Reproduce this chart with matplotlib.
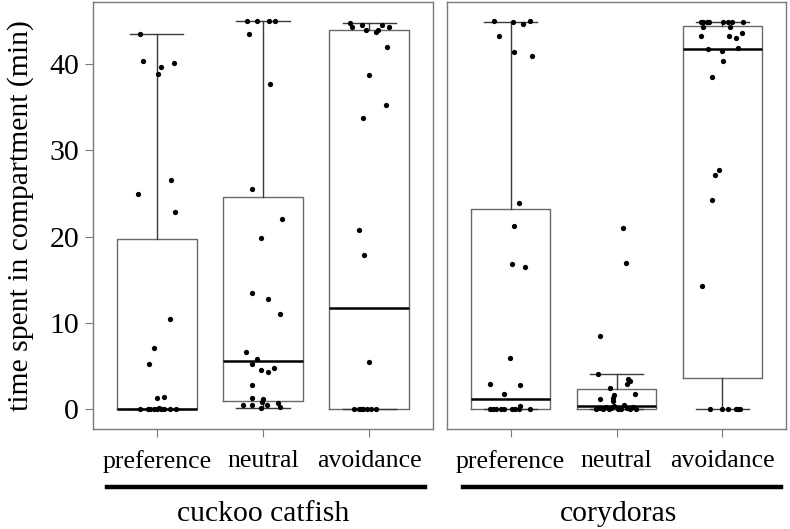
import numpy as np
import matplotlib
matplotlib.use("Agg")
import matplotlib.pyplot as plt
from matplotlib.lines import Line2D

plt.rcParams['font.family'] = ['Liberation Serif', 'DejaVu Serif']

CATEGORIES = ["preference", "neutral", "avoidance"]
GROUPS = ["cuckoo catfish", "corydoras"]

# box statistics (q1, median, q3, whisker low/high)
catfish_q1 = [0.0, 0.96, 0.0]
catfish_med = [0.08, 5.57, 11.75]
catfish_q3 = [19.75, 24.6, 43.9]
catfish_lo = [0.0, 0.2, 0.0]
catfish_hi = [43.5, 45.0, 44.8]

cory_q1 = [0.0, 0.08, 3.7]
cory_med = [1.16, 0.46, 41.8]
cory_q3 = [23.2, 2.32, 44.4]
cory_lo = [0.0, 0.0, 0.0]
cory_hi = [44.9, 4.06, 44.9]

# individual fish (minutes) and their horizontal jitter
catfish_pref = [43.5, 40.3, 39.65, 38.9, 40.1, 26.55, 25.0, 22.85, 10.5, 7.15, 5.3, 1.35, 1.47,
                0, 0, 0, 0, 0, 0.2, 0, 0, 0, 0]
catfish_pref_jit = [-0.16, -0.13, 0.04, 0.01, 0.16, 0.13, -0.18, 0.17, 0.12, -0.03, -0.07, 0.0, 0.07,
                    -0.16, -0.08, -0.06, -0.03, 0.0, 0.02, 0.04, 0.07, 0.12, 0.18]

catfish_neu = [45.0, 45.0, 45.0, 45.0, 43.5, 37.7, 25.5, 22.1, 19.9, 13.45, 12.75, 11.05, 6.6, 5.87,
               5.3, 4.6, 4.83, 4.29, 2.78, 1.31, 1.2, 0.85, 0.73, 0.54, 0.54, 0.54, 0.2, 0.31]
catfish_neu_jit = [-0.15, -0.06, 0.06, 0.11, -0.13, 0.07, -0.10, 0.18, -0.02, -0.10, 0.05, 0.16, -0.16, -0.06,
                   -0.10, -0.02, 0.10, 0.05, -0.10, -0.10, 0.0, -0.01, 0.14, -0.19, -0.10, 0.04, -0.02, 0.16]

catfish_avo = [44.8, 44.25, 44.5, 44.0, 43.75, 43.9, 44.5, 44.3, 42.0, 38.7, 35.25, 33.8, 20.8, 17.9, 5.5,
               0, 0, 0, 0, 0, 0, 0]
catfish_avo_jit = [-0.18, -0.16, -0.07, -0.03, 0.06, 0.08, 0.12, 0.19, 0.17, 0.0, 0.16, -0.06, -0.10, -0.05, 0.0,
                   -0.14, -0.10, -0.06, -0.02, 0.02, 0.06, -0.08]

cory_pref = [45.0, 44.9, 44.7, 45.0, 43.2, 41.4, 40.9, 23.9, 21.3, 16.8, 16.5, 6.0, 2.93, 2.78, 1.82, 0.46,
             0, 0, 0, 0, 0, 0, 0, 0, 0]
cory_pref_jit = [-0.16, 0.02, 0.12, 0.18, -0.11, 0.03, 0.20, 0.08, 0.03, 0.01, 0.14, -0.01, -0.19, 0.09, -0.06, 0.09,
                 -0.19, -0.17, -0.14, -0.09, -0.06, 0.01, 0.04, 0.08, 0.18]

cory_neu = [21.0, 17.0, 8.46, 4.06, 3.52, 3.25, 2.98, 2.52, 1.82, 1.62, 1.35, 1.23, 1.04,
            0.0, 0.2, 0.1, 0.3, 0.0, 0.2, 0.4, 0.1, 0.0, 0.5, 0.2, 0.0, 0.3, 0.1]
cory_neu_jit = [0.06, 0.09, -0.16, -0.17, 0.11, 0.13, 0.10, -0.06, 0.17, -0.02, -0.03, -0.16, -0.03,
                -0.19, -0.16, -0.13, -0.10, -0.07, -0.05, -0.02, 0.01, 0.04, 0.07, 0.10, 0.13, 0.16, 0.18]

cory_avo = [44.9, 44.9, 44.9, 44.9, 44.9, 44.9, 44.9, 44.9, 44.3, 44.3, 43.2, 43.2, 43.65, 43.0,
            41.8, 41.5, 41.9, 40.3, 38.5, 27.7, 27.2, 24.3, 14.3, 0, 0, 0, 0, 0, 0]
cory_avo_jit = [-0.20, -0.18, -0.15, -0.13, 0.01, 0.05, 0.09, 0.19, -0.18, 0.07, -0.20, 0.06, 0.18, 0.13,
                -0.14, 0.0, 0.15, 0.01, -0.10, -0.03, -0.07, -0.10, -0.19, -0.12, 0.0, 0.05, 0.13, 0.15, 0.17]

catfish_pts = [(catfish_pref, catfish_pref_jit), (catfish_neu, catfish_neu_jit), (catfish_avo, catfish_avo_jit)]
cory_pts = [(cory_pref, cory_pref_jit), (cory_neu, cory_neu_jit), (cory_avo, cory_avo_jit)]

FRAME = "#7a7a7a"


def make_stats(q1, med, q3, lo, hi):
    return [dict(q1=q1[i], med=med[i], q3=q3[i], whislo=lo[i], whishi=hi[i], fliers=[])
            for i in range(len(q1))]


def draw_panel(ax, stats, pts, show_y):
    pos = np.arange(1, len(CATEGORIES) + 1)
    ax.bxp(stats, positions=pos, widths=0.75, capwidths=0.5, showfliers=False,
           boxprops=dict(color="#6a6a6a", linewidth=1.0),
           whiskerprops=dict(color="#3a3a3a", linewidth=1.0),
           capprops=dict(color="#3a3a3a", linewidth=1.0),
           medianprops=dict(color="black", linewidth=1.8))
    for i, (vals, jit) in enumerate(pts):
        ax.plot(pos[i] + np.array(jit), vals, 'o', color="black", ms=3.8, mec="none")
    ax.set_xlim(0.4, 3.6)
    ax.set_ylim(-2.26, 47.19)
    ax.set_xticks(pos, CATEGORIES, fontsize=18.5)
    ax.tick_params(axis="x", length=6, color=FRAME, pad=9)
    if show_y:
        ax.set_yticks([0, 10, 20, 30, 40])
        ax.tick_params(axis="y", length=6, color=FRAME, labelsize=21.5, pad=4)
        ax.set_ylabel("time spent in compartment (min)", fontsize=21.3, labelpad=11)
    else:
        ax.set_yticks([])
    for s in ax.spines.values():
        s.set_color(FRAME)
        s.set_linewidth(1.0)


fig = plt.figure(figsize=(7.9, 5.29), dpi=100)
ax1 = fig.add_axes([93 / 790, 1 - 429 / 529, 340 / 790, 427 / 529])
ax2 = fig.add_axes([447 / 790, 1 - 429 / 529, 339 / 790, 427 / 529])

draw_panel(ax1, make_stats(catfish_q1, catfish_med, catfish_q3, catfish_lo, catfish_hi), catfish_pts, True)
draw_panel(ax2, make_stats(cory_q1, cory_med, cory_q3, cory_lo, cory_hi), cory_pts, False)

# group underline and name
for (x0, x1), name in zip([(107, 425), (463, 781)], GROUPS):
    fig.add_artist(Line2D([x0 / 790, x1 / 790], [1 - 487 / 529] * 2, color="black", lw=3.2,
                          transform=fig.transFigure))
    fig.text((x0 + x1) / 2 / 790 - 0.004, 1 - 514 / 529, name, ha="center", va="center", fontsize=21.3)

fig.savefig("out.png", dpi=100)
